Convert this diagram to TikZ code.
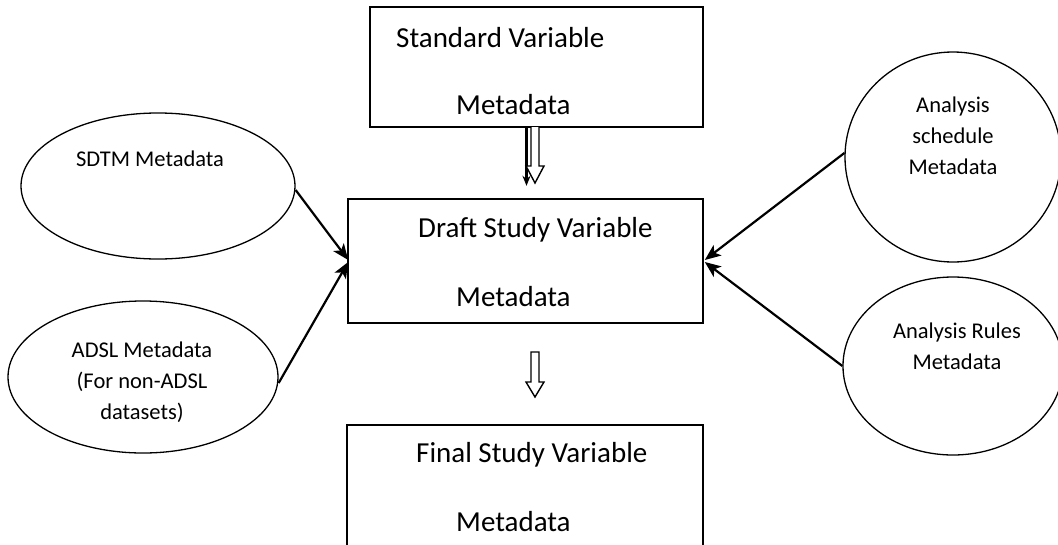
\documentclass[tikz,border=0pt]{standalone}
\usepackage{fontspec}
\setmainfont{Carlito}
\usetikzlibrary{arrows.meta,shapes.geometric,calc}
\begin{document}
\begin{tikzpicture}[x=1pt,y=-1pt,
  boxnode/.style={draw,line width=1.6pt,rectangle,inner sep=0pt},
  ovalnode/.style={draw,line width=1.3pt,ellipse,inner sep=0pt},
  bigtext/.style={font=\fontsize{29}{31}\selectfont,inner sep=0pt,anchor=west},
  smalltext/.style={font=\fontsize{22.5}{31}\selectfont,inner sep=0pt,align=center,anchor=center},
  conn/.style={line width=2.2pt,-{Stealth[length=16pt,width=13pt,inset=4pt]}},
  hollow/.style={draw,line width=1.4pt,fill=white,line join=miter}]
\clip (0,0) rectangle (1058,544);
\fill[white] (0,0) rectangle (1058,544);
% boxes
\node[boxnode,minimum width=333pt,minimum height=120pt] (top) at (536.5,67) {};
\node[boxnode,minimum width=355pt,minimum height=124pt] (draft) at (525.5,261) {};
\node[boxnode,minimum width=356pt,minimum height=150pt] (final) at (525,500) {};
% box texts
\node[bigtext] (t1) at (396,38) {Standard Variable};
\node[bigtext] (t2) at (456,105) {Metadata};
\node[bigtext] (d1) at (418,230) {Draft Study Variable};
\node[bigtext] (d2) at (456,297) {Metadata};
\node[bigtext] (f1) at (416,455) {Final Study Variable};
\node[bigtext] (f2) at (456,522) {Metadata};
% ellipses
\node[ovalnode,minimum width=274pt,minimum height=146pt] (sdtm) at (158,186) {};
\node[ovalnode,minimum width=270pt,minimum height=152pt] (adsl) at (143,377) {};
\node[ovalnode,minimum width=216pt,minimum height=210pt] (sched) at (953,157) {};
\node[ovalnode,minimum width=220pt,minimum height=178pt] (rules) at (953,366) {};
% ellipse texts
\node[smalltext] (s1) at (150,159) {SDTM Metadata};
\node[smalltext] (a1) at (142,382) {ADSL Metadata\\(For non-ADSL\\datasets)};
\node[smalltext] (c1) at (953,136) {Analysis\\schedule\\Metadata};
\node[smalltext] (r1) at (957,346) {Analysis Rules\\Metadata};
% connectors
\draw[conn] ([yshift=-4pt]sdtm.east) -- ([yshift=1pt,xshift=1pt]draft.west);
\draw[conn] ([yshift=-6pt]adsl.east) -- ([yshift=-1pt,xshift=1pt]draft.west);
\draw[conn] ([yshift=4pt]sched.west) -- ([yshift=1pt,xshift=1pt]draft.east);
\draw[conn] (rules.west) -- ([yshift=-1pt,xshift=1pt]draft.east);
% arrows between boxes
\draw[line width=2.2pt,-{Stealth[length=10pt,width=8pt]}] ([xshift=-10pt]top.south) -- ++(0,58);
\draw[hollow] (531,127) -- (531,166) -- (526,166) -- (535,183) -- (544,166) -- (539,166) -- (539,127);
\draw[hollow] (531,352) -- (531,382) -- (526,382) -- (535,397) -- (544,382) -- (539,382) -- (539,352) -- cycle;
\end{tikzpicture}
\end{document}
